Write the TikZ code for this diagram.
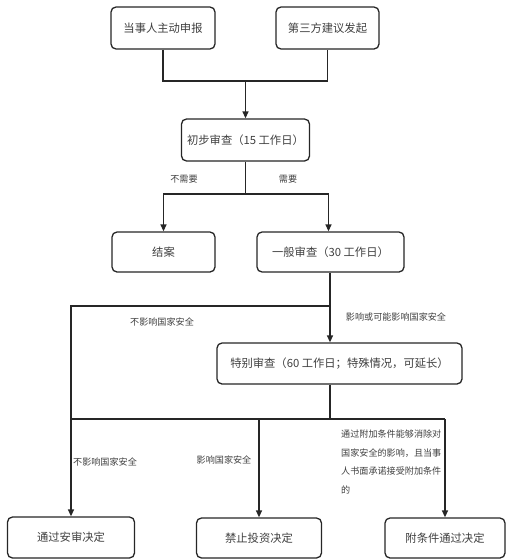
\documentclass[tikz,border=0pt]{standalone}
\usepackage{fontspec}
\newfontfamily\cjk{Noto Sans CJK SC}
\usetikzlibrary{arrows.meta,calc}
\begin{document}
\begin{tikzpicture}[x=1pt,y=-1pt,
  box/.style={draw=black!85,line width=1.3pt,rounded corners=5pt,fill=white,
    font=\cjk\fontsize{11.3}{13}\selectfont,text=black!75,inner sep=0pt},
  lbl/.style={font=\cjk\fontsize{9.1}{11}\selectfont,text=black!75,inner sep=1pt},
  conn/.style={draw=black!85,line width=1.3pt},
  arr/.style={conn,-{Triangle[length=7pt,width=6pt]}}]
\useasboundingbox (0,0) rectangle (506,560);
% nodes
\node[box,minimum width=104pt,minimum height=42pt] (a) at (163,28) {当事人主动申报};
\node[box,minimum width=103pt,minimum height=42pt] (b) at (327.5,28) {第三方建议发起};
\node[box,minimum width=128pt,minimum height=42pt] (c) at (245.5,140) {初步审查（15 工作日）};
\node[box,minimum width=103pt,minimum height=40pt] (d) at (163.5,252) {结案};
\node[box,minimum width=147pt,minimum height=40pt] (e) at (330.5,252) {一般审查（30 工作日）};
\node[box,minimum width=245pt,minimum height=41pt] (f) at (339.5,363.5) {特别审查（60 工作日；特殊情况，可延长）};
\node[box,minimum width=127pt,minimum height=41pt] (g) at (71,537.5) {通过安审决定};
\node[box,minimum width=125pt,minimum height=40pt] (h) at (259,538) {禁止投资决定};
\node[box,minimum width=120pt,minimum height=40pt] (i) at (445,538) {附条件通过决定};
% junctions
\coordinate (m1) at (245.5,81);
\coordinate (m2) at (245.5,194);
\coordinate (m3) at (330,306);
\coordinate (m4) at (330,419);
% connectors
\draw[conn] (a.south) |- (m1) -| (b.south);
\draw[arr] (m1) -- (c.north);
\draw[conn] (c.south) -- (m2);
\draw[arr] (m2) -| (d.north);
\draw[arr] (m2) -| ($(e.north)+(-2,0)$);
\draw[conn] (e.south -| m3) -- (m3);
\draw[arr] (m3) -- (m3 |- f.north);
\draw[arr] (m3) -| (g.north);
\draw[conn] (m3 |- f.south) -- (m4);
\draw[conn] (m4 -| g.north) -- (m4 -| i.north);
\draw[arr] (m4 -| h.north) -- (h.north);
\draw[arr] (m4 -| i.north) -- (i.north);
% labels
\node[lbl] (l1) at (184,179) {不需要};
\node[lbl] (l2) at (288,179) {需要};
\node[lbl] (l3) at (162,322) {不影响国家安全};
\node[lbl] (l4) at (396,317) {影响或可能影响国家安全};
\node[lbl] (l5) at (105,462) {不影响国家安全};
\node[lbl] (l6) at (224,460) {影响国家安全};
\node[lbl,anchor=north west,align=left,font=\cjk\fontsize{9.1}{18.5}\selectfont] (l7) at (340,429)
  {通过附加条件能够消除对\\国家安全的影响，且当事\\人书面承诺接受附加条件\\的};
\end{tikzpicture}
\end{document}
